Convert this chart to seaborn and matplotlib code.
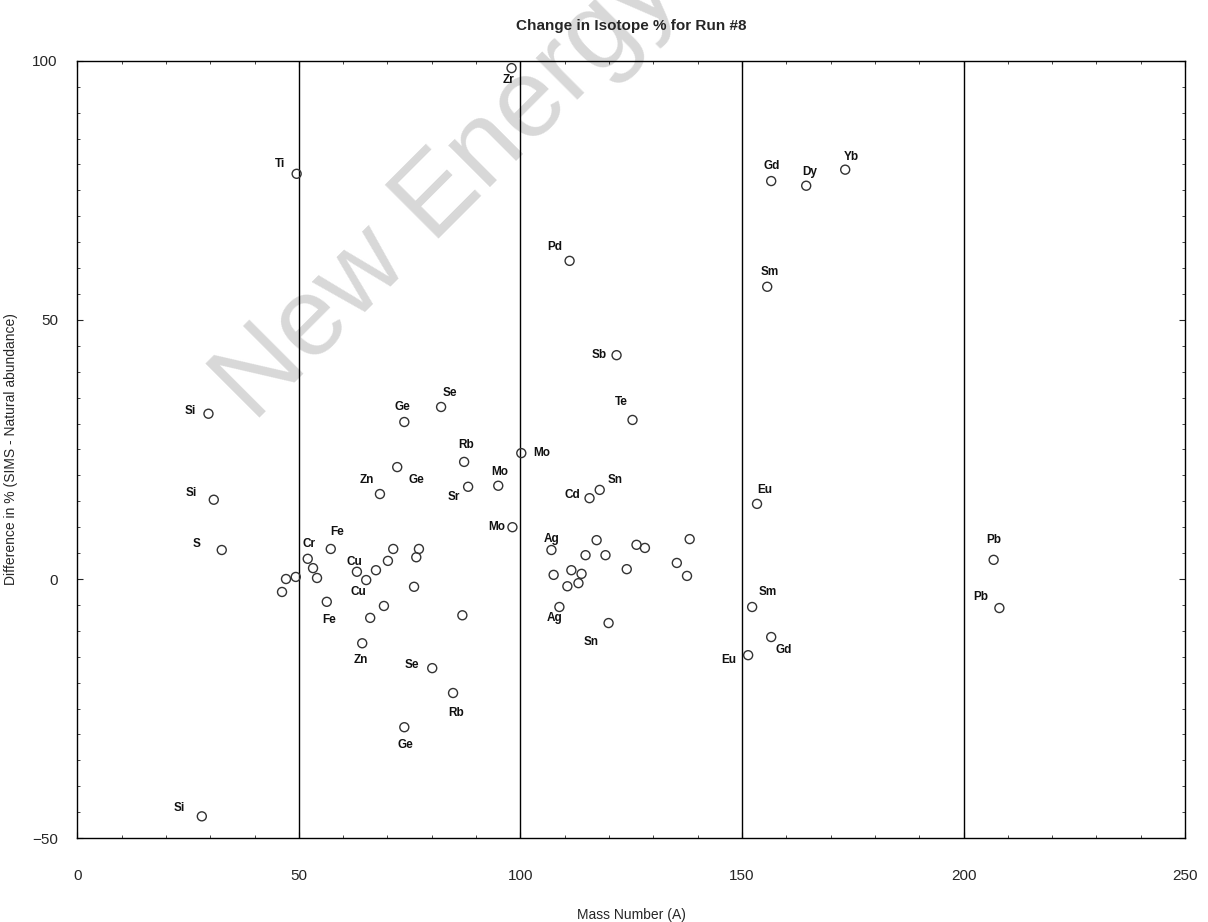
import pandas as pd
import numpy as np
import seaborn as sns
import matplotlib.pyplot as plt

sns.set_style("ticks")
plt.rcParams['font.family'] = ['Liberation Sans', 'DejaVu Sans']

# Data
mass = [29.6, 30.8, 32.6, 28.1, 49.5,
        52.0, 57.2, 53.2, 54.1, 49.3, 47.1, 46.2, 56.3,
        63.1, 65.2, 67.4, 70.1, 71.3, 77.1, 76.5, 76.0, 69.2, 66.1, 64.3,
        68.3, 72.2, 73.8, 82.1, 87.3, 88.2, 95.0, 100.2, 98.2, 86.9,
        80.1, 84.8, 73.8, 98.0, 111.1, 121.7, 125.3, 115.6, 117.9,
        107.0, 108.8, 119.9, 117.2, 114.7, 119.2, 107.5, 111.5, 113.8,
        110.6, 113.1, 124.0, 126.2, 128.1, 138.2, 135.3, 137.6,
        156.6, 164.5, 173.3, 155.7, 153.4, 152.3, 156.6, 151.4,
        206.8, 208.1]
diff = [31.9, 15.3, 5.6, -45.8, 78.2,
        3.9, 5.8, 2.1, 0.2, 0.4, 0.0, -2.5, -4.4,
        1.4, -0.2, 1.7, 3.5, 5.8, 5.8, 4.2, -1.5, -5.2, -7.5, -12.4,
        16.4, 21.6, 30.3, 33.2, 22.6, 17.8, 18.0, 24.3, 10.0, -7.0,
        -17.2, -22.0, -28.6, 98.6, 61.4, 43.2, 30.7, 15.6, 17.2,
        5.6, -5.4, -8.5, 7.5, 4.6, 4.6, 0.8, 1.7, 1.0,
        -1.4, -0.8, 1.9, 6.6, 6.0, 7.7, 3.1, 0.6,
        76.8, 75.9, 79.0, 56.4, 14.5, -5.4, -11.2, -14.7,
        3.7, -5.6]
element = ["Si", "Si", "S", "Si", "Ti",
           "Cr", "Fe", "", "", "", "", "", "Fe",
           "Cu", "Cu", "", "", "", "", "", "", "", "", "Zn",
           "Zn", "Ge", "Ge", "Se", "Rb", "Sr", "Mo", "Mo", "Mo", "",
           "Se", "Rb", "Ge", "Zr", "Pd", "Sb", "Te", "Cd", "Sn",
           "Ag", "Ag", "Sn", "", "", "", "", "", "",
           "", "", "", "", "", "", "", "",
           "Gd", "Dy", "Yb", "Sm", "Eu", "Sm", "Gd", "Eu",
           "Pb", "Pb"]

x_ticks = [0, 50, 100, 150, 200, 250]
y_ticks = [-50, 0, 50, 100]

# label placement (pixels from the point: right, up)
label_offset = {
    0: (-18, 3), 1: (-23, 7), 2: (-25, 6), 3: (-23, 8), 4: (-17, 10),
    5: (1, 15), 6: (6, 17), 12: (2, -18), 13: (-3, 10), 14: (-8, -12),
    23: (-1, -17), 24: (-13, 14), 25: (19, -13), 26: (-2, 15), 27: (9, 14),
    28: (2, 17), 29: (-14, -10), 30: (1, 14), 31: (20, 0), 32: (-16, 0),
    34: (-20, 3), 35: (3, -20), 36: (1, -18), 37: (-3, -12), 38: (-15, 14),
    39: (-17, 0), 40: (-11, 18), 41: (-17, 3), 42: (15, 10),
    43: (0, 11), 44: (-5, -11), 45: (-17, -19),
    60: (0, 15), 61: (3, 14), 62: (6, 13), 63: (3, 15), 64: (8, 14),
    65: (16, 15), 66: (12, -13), 67: (-19, -5), 68: (0, 20), 69: (-19, 11),
}

df = pd.DataFrame({"mass": mass, "diff": diff, "element": element})

fig = plt.figure(figsize=(12.08, 9.22), dpi=100)
ax = fig.add_axes([0.064, 0.091, 0.917, 0.843])
ax.set_facecolor("none")

# faint watermark like the scanned original, kept behind the chart
fig.text(0.163, 0.548, "New Energy", fontsize=80, color="#d8d8d8",
         rotation=45, ha="left", va="baseline", zorder=-1,
         family=["Liberation Sans", "DejaVu Sans"])

for gx in [50, 100, 150, 200]:
    ax.axvline(gx, color="black", lw=1.0, zorder=1)

sns.scatterplot(data=df, x="mass", y="diff", ax=ax, marker="o", s=42,
                facecolor="none", edgecolor="#333333", linewidth=1.0,
                zorder=3, legend=False)

for i, (m, d, el) in enumerate(zip(mass, diff, element)):
    if el == "":
        continue
    dx, dy = label_offset.get(i, (0, 14))
    ax.annotate(el, (m, d), xytext=(dx, dy), textcoords="offset pixels",
                ha="center", va="center", fontsize=8.5, fontweight="bold",
                color="#111111", zorder=4)

ax.set_xlim(0, 250)
ax.set_ylim(-50, 100)
ax.set_xticks(x_ticks)
ax.set_yticks(y_ticks)
ax.set_xticks(np.arange(0, 251, 10), minor=True)
ax.set_yticks(np.arange(-50, 101, 5), minor=True)
ax.tick_params(which="both", direction="in", top=True, right=True,
               labelsize=11, length=4)
ax.tick_params(which="minor", length=2.5)
ax.tick_params(axis="x", pad=22)
ax.tick_params(axis="y", pad=14)
for sp in ax.spines.values():
    sp.set_linewidth(1.0)
    sp.set_color("black")

ax.set_xlabel("Mass Number (A)", fontsize=10, labelpad=18)
ax.set_ylabel("Difference in % (SIMS - Natural abundance)", fontsize=10,
              labelpad=10)
ax.set_title("Change in Isotope % for Run #8", fontsize=11,
             fontweight="bold", pad=22)

fig.savefig("out.png", dpi=100, facecolor="white")
